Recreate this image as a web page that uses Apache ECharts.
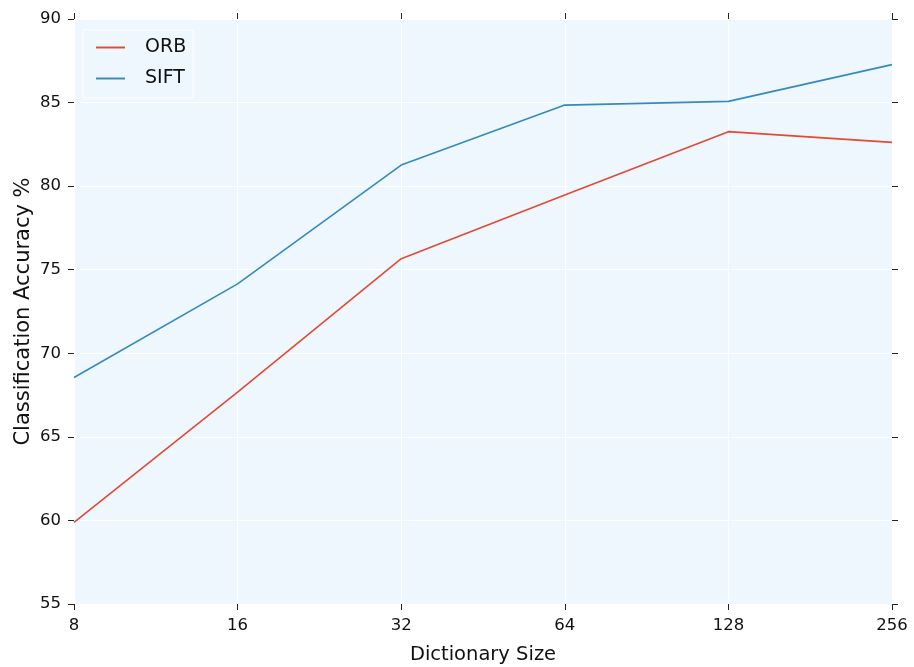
<!DOCTYPE html>
<html>
<head>
<meta charset="utf-8">
<script src="https://cdn.jsdelivr.net/npm/echarts@6/dist/echarts.min.js"></script>
<style>html,body{margin:0;padding:0;background:#fff;}#c{width:914px;height:667px;}</style>
</head>
<body>
<div id="c"></div>
<script>
var dictSizes = [8, 16, 32, 64, 128, 256];
var orbAcc = [59.88, 67.68, 75.66, 79.47, 83.26, 82.62];
var siftAcc = [68.55, 74.15, 81.26, 84.85, 85.07, 87.27];
var yTicks = [55, 60, 65, 70, 75, 80, 85, 90];

function pairs(xs, ys) { return xs.map(function (x, i) { return [x, ys[i]]; }); }

var font = 'DejaVu Sans';
var tickStyle = { show: true, inside: false, length: 6, lineStyle: { color: '#222', width: 1 } };
var chart = echarts.init(document.getElementById('c'), null, { renderer: 'canvas' });
chart.setOption({
  animation: false,
  textStyle: { fontFamily: font },
  grid: { left: 74, right: 22, top: 19, bottom: 63, show: true, backgroundColor: '#eef6fe', borderWidth: 0, containLabel: false, outerBoundsMode: 'none' },
  legend: {
    left: 83, top: 30, orient: 'vertical',
    backgroundColor: '#eef6fe', borderColor: '#ffffff', borderWidth: 1,
    padding: [8, 7, 10, 13], itemGap: 12, itemWidth: 29, itemHeight: 14,
    icon: 'path://M0,6 L30,6 L30,8 L0,8 Z',
    textStyle: { fontFamily: font, fontSize: 19, lineHeight: 19, color: '#111', padding: [0, 0, 0, 15] },
    data: ['ORB', 'SIFT']
  },
  xAxis: [{
    type: 'log', logBase: 2, min: dictSizes[0], max: dictSizes[dictSizes.length - 1],
    name: 'Dictionary Size', nameLocation: 'middle', nameGap: 41, nameMoveOverlap: false,
    nameTextStyle: { fontFamily: font, fontSize: 19.5, color: '#111' },
    axisLine: { show: false }, axisTick: tickStyle,
    axisLabel: { margin: 13, fontFamily: font, fontSize: 16.5, color: '#111', formatter: function (v) { return String(Math.round(v)); } },
    splitLine: { show: true, lineStyle: { color: '#ffffff', width: 1 } }
  }, {
    type: 'log', logBase: 2, min: dictSizes[0], max: dictSizes[dictSizes.length - 1], position: 'top',
    axisLine: { show: false }, axisTick: tickStyle, axisLabel: { show: false }, splitLine: { show: false }
  }],
  yAxis: [{
    type: 'value', min: yTicks[0], max: yTicks[yTicks.length - 1], interval: 5,
    name: 'Classification Accuracy %', nameLocation: 'middle', nameGap: 40, nameMoveOverlap: false,
    nameTextStyle: { fontFamily: font, fontSize: 21, color: '#111' },
    axisLine: { show: false }, axisTick: tickStyle,
    axisLabel: { margin: 13, fontFamily: font, fontSize: 16.5, color: '#111' },
    splitLine: { show: true, lineStyle: { color: '#ffffff', width: 1 } }
  }, {
    type: 'value', min: yTicks[0], max: yTicks[yTicks.length - 1], interval: 5, position: 'right',
    axisLine: { show: false }, axisTick: tickStyle, axisLabel: { show: false }, splitLine: { show: false }
  }],
  series: [{
    name: 'ORB', type: 'line', data: pairs(dictSizes, orbAcc), showSymbol: false,
    itemStyle: { color: '#e24a33' }, lineStyle: { color: '#e24a33', width: 1.6 }
  }, {
    name: 'SIFT', type: 'line', data: pairs(dictSizes, siftAcc), showSymbol: false,
    itemStyle: { color: '#348abd' }, lineStyle: { color: '#348abd', width: 1.6 }
  }]
});
</script>
</body>
</html>
